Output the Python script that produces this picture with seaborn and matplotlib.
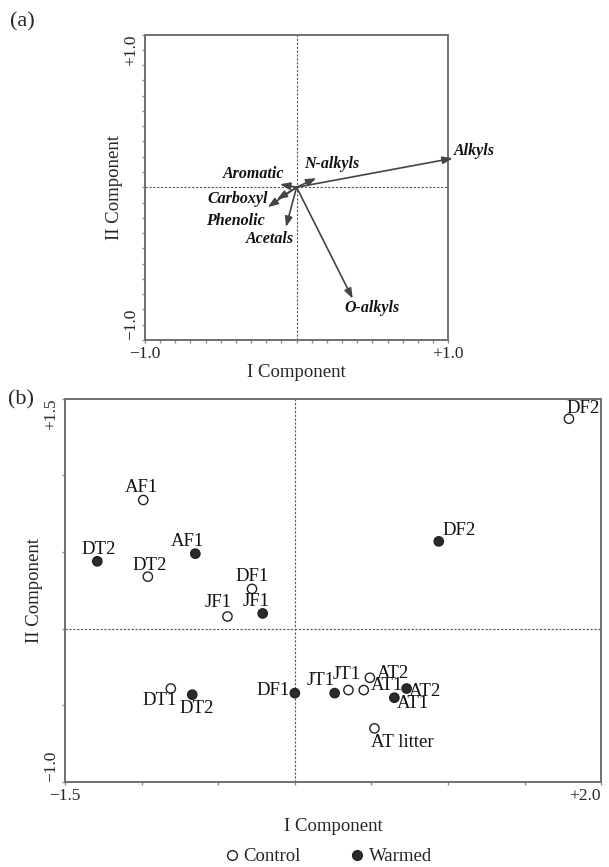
import numpy as np
import pandas as pd
import matplotlib
matplotlib.use("Agg")
import matplotlib.pyplot as plt
import seaborn as sns
from matplotlib.lines import Line2D
from matplotlib.ticker import MultipleLocator

# panel (a): loadings of the C-functional groups
groups = ["Alkyls", "N-alkyls", "Aromatic", "Carboxyl", "Phenolic", "Acetals", "O-alkyls"]
load_x = [1.03, 0.13, -0.11, -0.13, -0.19, -0.07, 0.37]
load_y = [0.19, 0.06, 0.02, -0.08, -0.13, -0.26, -0.73]
label_x = [1.04, 0.23, -0.08, -0.19, -0.21, -0.02, 0.50]
label_y = [0.24, 0.15, 0.09, -0.08, -0.22, -0.34, -0.79]
label_ha = ["left", "center", "right", "right", "right", "right", "center"]

# panel (b): sample scores
samples = ["DF2", "AF1", "DT2", "DF1", "JF1", "DT1", "JT1", "AT2", "AT1", "AT litter",
           "DF2", "AF1", "DT2", "JF1", "DT2", "DF1", "JT1", "AT2", "AT1"]
treatment = ["Control"] * 10 + ["Warmed"] * 9
score_x = [1.79, -0.99, -0.96, -0.28, -0.44, -0.81, 0.35, 0.49, 0.45, 0.52,
           0.94, -0.65, -1.29, -0.21, -0.67, 0.00, 0.26, 0.73, 0.65]
score_y = [1.37, 0.84, 0.34, 0.26, 0.08, -0.39, -0.40, -0.32, -0.40, -0.65,
           0.57, 0.49, 0.44, 0.10, -0.43, -0.42, -0.42, -0.39, -0.45]
text_x = [1.88, -1.00, -0.95, -0.28, -0.50, -0.88, 0.34, 0.64, 0.60, 0.70,
          1.07, -0.70, -1.28, -0.25, -0.64, -0.14, 0.17, 0.85, 0.77]
text_y = [1.44, 0.92, 0.41, 0.34, 0.17, -0.47, -0.30, -0.29, -0.37, -0.74,
          0.64, 0.57, 0.52, 0.18, -0.52, -0.40, -0.34, -0.41, -0.49]

df = pd.DataFrame({"sample": samples, "treatment": treatment,
                   "x": score_x, "y": score_y, "tx": text_x, "ty": text_y})

sns.set_style("white")
plt.rcParams["font.family"] = ["Liberation Serif", "DejaVu Serif"]
plt.rcParams["axes.linewidth"] = 1.4

fig = plt.figure(figsize=(6.09, 8.67), dpi=100)
ax1 = fig.add_axes([0.238, 0.608, 0.498, 0.352])
ax2 = fig.add_axes([0.107, 0.098, 0.880, 0.442])

def style_axis(ax, xlim, ylim, step_x, step_y, xlab, ylab, right_ha="center"):
    ax.set_xlim(*xlim)
    ax.set_ylim(*ylim)
    ax.axhline(0, color="#555555", lw=0.8, ls=(0, (2, 1.5)))
    ax.axvline(0, color="#555555", lw=0.8, ls=(0, (2, 1.5)))
    ax.xaxis.set_minor_locator(MultipleLocator(step_x))
    ax.yaxis.set_minor_locator(MultipleLocator(step_y))
    ax.set_xticks(list(xlim))
    ax.set_yticks(list(ylim))
    ax.set_xticklabels(xlab, fontsize=12.5)
    ax.set_yticklabels(ylab, fontsize=12.5, rotation=90)
    ax.get_xticklabels()[1].set_ha(right_ha)
    ax.get_yticklabels()[0].set_va("bottom")
    ax.get_yticklabels()[1].set_va("top")
    ax.tick_params(which="both", direction="out", length=2.5, width=1,
                   color="#8a8a8a", bottom=True, left=True, pad=2)
    for s in ax.spines.values():
        s.set_color("#707070")

# (a) loadings
style_axis(ax1, (-1.0, 1.0), (-1.0, 1.0), 0.1, 0.1,
           ["\u22121.0", "+1.0"], ["\u22121.0", "+1.0"])
for g, x, y, lx, ly, ha in zip(groups, load_x, load_y, label_x, label_y, label_ha):
    ax1.annotate("", xy=(x, y), xytext=(0, 0), annotation_clip=False,
                 arrowprops=dict(arrowstyle="-|>,head_length=0.6,head_width=0.22",
                                 color="#444444", lw=1.2, shrinkA=0, shrinkB=0))
    ax1.text(lx, ly, g, ha=ha, va="center", fontsize=11.5,
             fontweight="bold", fontstyle="italic", color="#111111")
ax1.set_xlabel("I Component", fontsize=13.5, labelpad=1)
ax1.set_ylabel("II Component", fontsize=13.5, labelpad=0)

# (b) scores
style_axis(ax2, (-1.5, 2.0), (-1.0, 1.5), 0.5, 0.5,
           ["\u22121.5", "+2.0"], ["\u22121.0", "+1.5"], right_ha="right")
sns.scatterplot(data=df, x="x", y="y", hue="treatment",
                palette={"Control": "white", "Warmed": "#2b2b2b"},
                edgecolor="#222222", linewidth=1.0, s=45, legend=False,
                zorder=3, ax=ax2)
for _, r in df.iterrows():
    ax2.text(r["tx"], r["ty"], r["sample"], ha="center", va="center",
             fontsize=13.5, color="#111111")
ax2.set_xlabel("I Component", fontsize=13.5, labelpad=10)
ax2.set_ylabel("II Component", fontsize=13.5, labelpad=0)

handles = [Line2D([], [], marker="o", ls="", mfc="white", mec="#222222",
                  mew=1.0, ms=7, label="Control"),
           Line2D([], [], marker="o", ls="", mfc="#2b2b2b", mec="#222222",
                  mew=1.0, ms=7, label="Warmed")]
fig.legend(handles=handles, loc="center", bbox_to_anchor=(0.539, 0.012),
           ncol=2, frameon=False, fontsize=13.5, handletextpad=0.2,
           columnspacing=2.6, handlelength=0.8)

fig.text(0.016, 0.975, "(a)", fontsize=16, ha="left", va="center")
fig.text(0.013, 0.5386, "(b)", fontsize=16, ha="left", va="center")

fig.savefig("out.png", dpi=100)
